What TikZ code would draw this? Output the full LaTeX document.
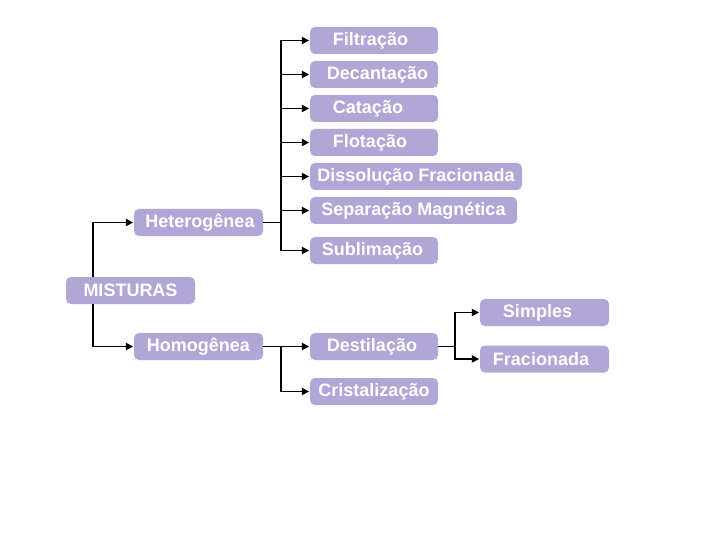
\documentclass[tikz,border=0pt]{standalone}
\usepackage{fontspec}
\setmainfont{Liberation Sans}
\usetikzlibrary{arrows.meta}
\definecolor{boxfill}{RGB}{177,166,214}
\tikzset{
  box/.style={fill=boxfill, rounded corners=5pt, minimum height=27pt, inner sep=0pt,
    text=white, font=\fontsize{18}{20}\selectfont\bfseries, anchor=center},
  link/.style={draw=black, line width=1.9pt},
  arr/.style={link, -{Triangle[length=7.5pt,width=7pt]}, shorten >=0.5pt},
}
\newcommand{\tshift}[1]{\hspace*{#1}}
\begin{document}
\begin{tikzpicture}[x=1pt,y=-1pt]
\useasboundingbox (0,0) rectangle (720,540);
\fill[white] (0,0) rectangle (720,540);
% boxes
\node[box, minimum width=128pt] (filt) at (374,40.5) {\tshift{-7pt}Filtração};
\node[box, minimum width=128pt] (dec) at (374,74.5) {\tshift{7pt}Decantação};
\node[box, minimum width=128pt] (cat) at (374,108.5) {\tshift{-12pt}Catação};
\node[box, minimum width=128pt] (flot) at (374,142.5) {\tshift{-8pt}Flotação};
\node[box, minimum width=212pt] (diss) at (416,176.5) {Dissolução Fracionada};
\node[box, minimum width=207pt] (sep) at (413.5,210.5) {Separação Magnética};
\node[box, minimum width=128pt] (sub) at (374,250.5) {\tshift{-3pt}Sublimação};
\node[box, minimum width=129pt] (het) at (198.5,222.5) {\tshift{3pt}Heterogênea};
\node[box, minimum width=129pt] (mist) at (130.5,290.5) {MISTURAS};
\node[box, minimum width=129pt] (hom) at (198.5,346.5) {Homogênea};
\node[box, minimum width=128pt] (dest) at (374,346.5) {\tshift{-4pt}Destilação};
\node[box, minimum width=128pt] (crist) at (374,391.5) {Cristalização};
\node[box, minimum width=129pt] (simp) at (544.5,312.5) {\tshift{-14pt}Simples};
\node[box, minimum width=129pt] (frac) at (544.5,359) {\tshift{-7pt}Fracionada};
% bus points
\coordinate (hb) at (281,222.5);
\coordinate (mb) at (281,346.5);
\coordinate (db) at (455,346.5);
% connectors from MISTURAS
\draw[arr] ([xshift=-37.5pt]mist.north) |- (het.west);
\draw[arr] ([xshift=-37.5pt]mist.south) |- (hom.west);
% Heterogenea
\draw[link] (het.east) -- (hb);
\foreach \n in {filt,dec,cat,flot,diss,sep,sub}{
  \draw[arr] (hb) |- (\n.west);
}
% Homogenea
\draw[link] (hom.east) -- (mb);
\draw[arr] (mb) -- (dest.west);
\draw[arr] (mb) |- (crist.west);
% Destilacao
\draw[link] (dest.east) -- (db);
\draw[arr] (db) |- (simp.west);
\draw[arr] (db) |- (frac.west);
\end{tikzpicture}
\end{document}
